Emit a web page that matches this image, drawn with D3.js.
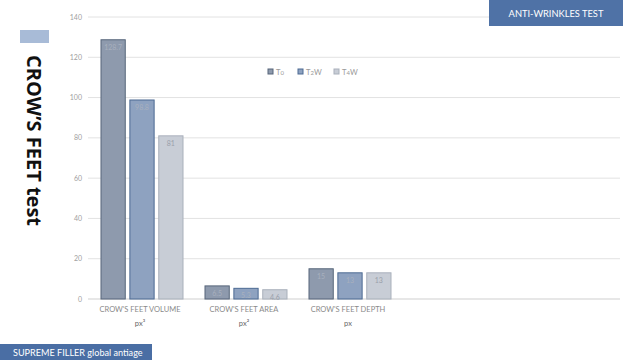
<!DOCTYPE html>
<html><head><meta charset="utf-8">
<script src="https://cdn.jsdelivr.net/npm/d3@7"></script>
<style>body{margin:0;background:#fff;}svg{display:block;font-family:Lato,"Open Sans",sans-serif;}</style>
</head><body>
<svg id="c" width="640" height="360"></svg>
<script>
const categories = ["CROW'S FEET VOLUME", "CROW'S FEET AREA", "CROW'S FEET DEPTH"];
const units = ["px³", "px²", "px"];
const seriesNames = ["T0", "T2W", "T4W"];
const seriesSubs = [["0",""],["2","W"],["4","W"]];
const T0 = [128.7, 6.5, 15];
const T2W = [98.8, 5.3, 13];
const T4W = [81, 4.6, 13];
const yTicks = [0, 20, 40, 60, 80, 100, 120, 140];

(function () {
const series = [T0, T2W, T4W];
const fills = ["#8e9aad", "#8ea2c0", "#c8cdd6"];
const strokes = ["#56657a", "#4c6a93", "#a9b0bb"];

const svg = d3.select("#c");
const pl = 88, pr = 620, pt = 17, pb = 299;
const y = d3.scaleLinear().domain([0, 140]).range([pb, pt]);
const x0 = d3.scaleBand().domain(categories).range([pl, pl + 3 * 104]).paddingInner(0).paddingOuter(0);
const x1 = d3.scaleBand().domain(seriesNames).range([13, 104 - 9]).paddingInner(0.16);

svg.append("g").selectAll("line").data(yTicks).join("line")
  .attr("x1", pl).attr("x2", pr)
  .attr("y1", d => y(d)).attr("y2", d => y(d))
  .attr("stroke", d => d === 0 ? "#cfcfcf" : "#e2e2e2").attr("stroke-width", 1);

svg.append("g").selectAll("text").data(yTicks).join("text")
  .attr("x", 82).attr("y", d => y(d) + 2.5).attr("text-anchor", "end")
  .attr("font-size", 7).attr("fill", "#a0a0a0").text(d => d);

const g = svg.append("g");
categories.forEach((c, ci) => {
  series.forEach((s, si) => {
    const bx = x0(c) + x1(seriesNames[si]);
    const bw = x1.bandwidth();
    g.append("rect").attr("x", bx).attr("y", y(s[ci])).attr("width", bw)
      .attr("height", y(0) - y(s[ci]))
      .attr("fill", fills[si]).attr("stroke", strokes[si]).attr("stroke-width", 1);
    g.append("text").attr("x", bx + bw / 2).attr("y", y(s[ci]) + 10)
      .attr("text-anchor", "middle").attr("font-size", 7)
      .attr("fill", si === 2 ? "#9aa0aa" : "#a8b0be").text(s[ci]);
  });
  svg.append("text").attr("x", x0(c) + 52).attr("y", 312).attr("text-anchor", "middle")
    .attr("font-size", 7.5).attr("fill", "#8a8a8a").text(c);
  svg.append("text").attr("x", x0(c) + 52).attr("y", 326).attr("text-anchor", "middle")
    .attr("font-size", 7.5).attr("fill", "#666").text(units[ci]);
});

const legX = [268, 298, 334];
seriesNames.forEach((n, i) => {
  svg.append("rect").attr("x", legX[i]).attr("y", 69).attr("width", 5).attr("height", 5)
    .attr("fill", fills[i]).attr("stroke", strokes[i]);
  const t = svg.append("text").attr("x", legX[i] + 8).attr("y", 75)
    .attr("font-size", 7.5).attr("fill", "#999");
  t.append("tspan").text("T");
  t.append("tspan").attr("font-size", 6).text(seriesSubs[i][0]);
  t.append("tspan").text(seriesSubs[i][1]);
});

svg.append("rect").attr("x", 20).attr("y", 30).attr("width", 29).attr("height", 13).attr("fill", "#a8bbd7");
svg.append("text").attr("transform", "translate(27,55) rotate(90)")
  .attr("font-size", 20).attr("font-weight", "bold").attr("fill", "#111")
  .attr("font-family", "'Open Sans',sans-serif").text("CROW’S FEET test");

svg.append("rect").attr("x", 489).attr("y", 0).attr("width", 134).attr("height", 26).attr("fill", "#4f72a6");
svg.append("text").attr("x", 556).attr("y", 16.5).attr("text-anchor", "middle")
  .attr("font-size", 9.3).attr("fill", "#fff").text("ANTI-WRINKLES TEST");

svg.append("rect").attr("x", 0).attr("y", 344).attr("width", 152).attr("height", 16).attr("fill", "#4a6ea4");
svg.append("text").attr("x", 13).attr("y", 355.5)
  .attr("font-size", 9.1).attr("fill", "#fff").text("SUPREME FILLER global antiage");
})();
</script>
</body></html>
